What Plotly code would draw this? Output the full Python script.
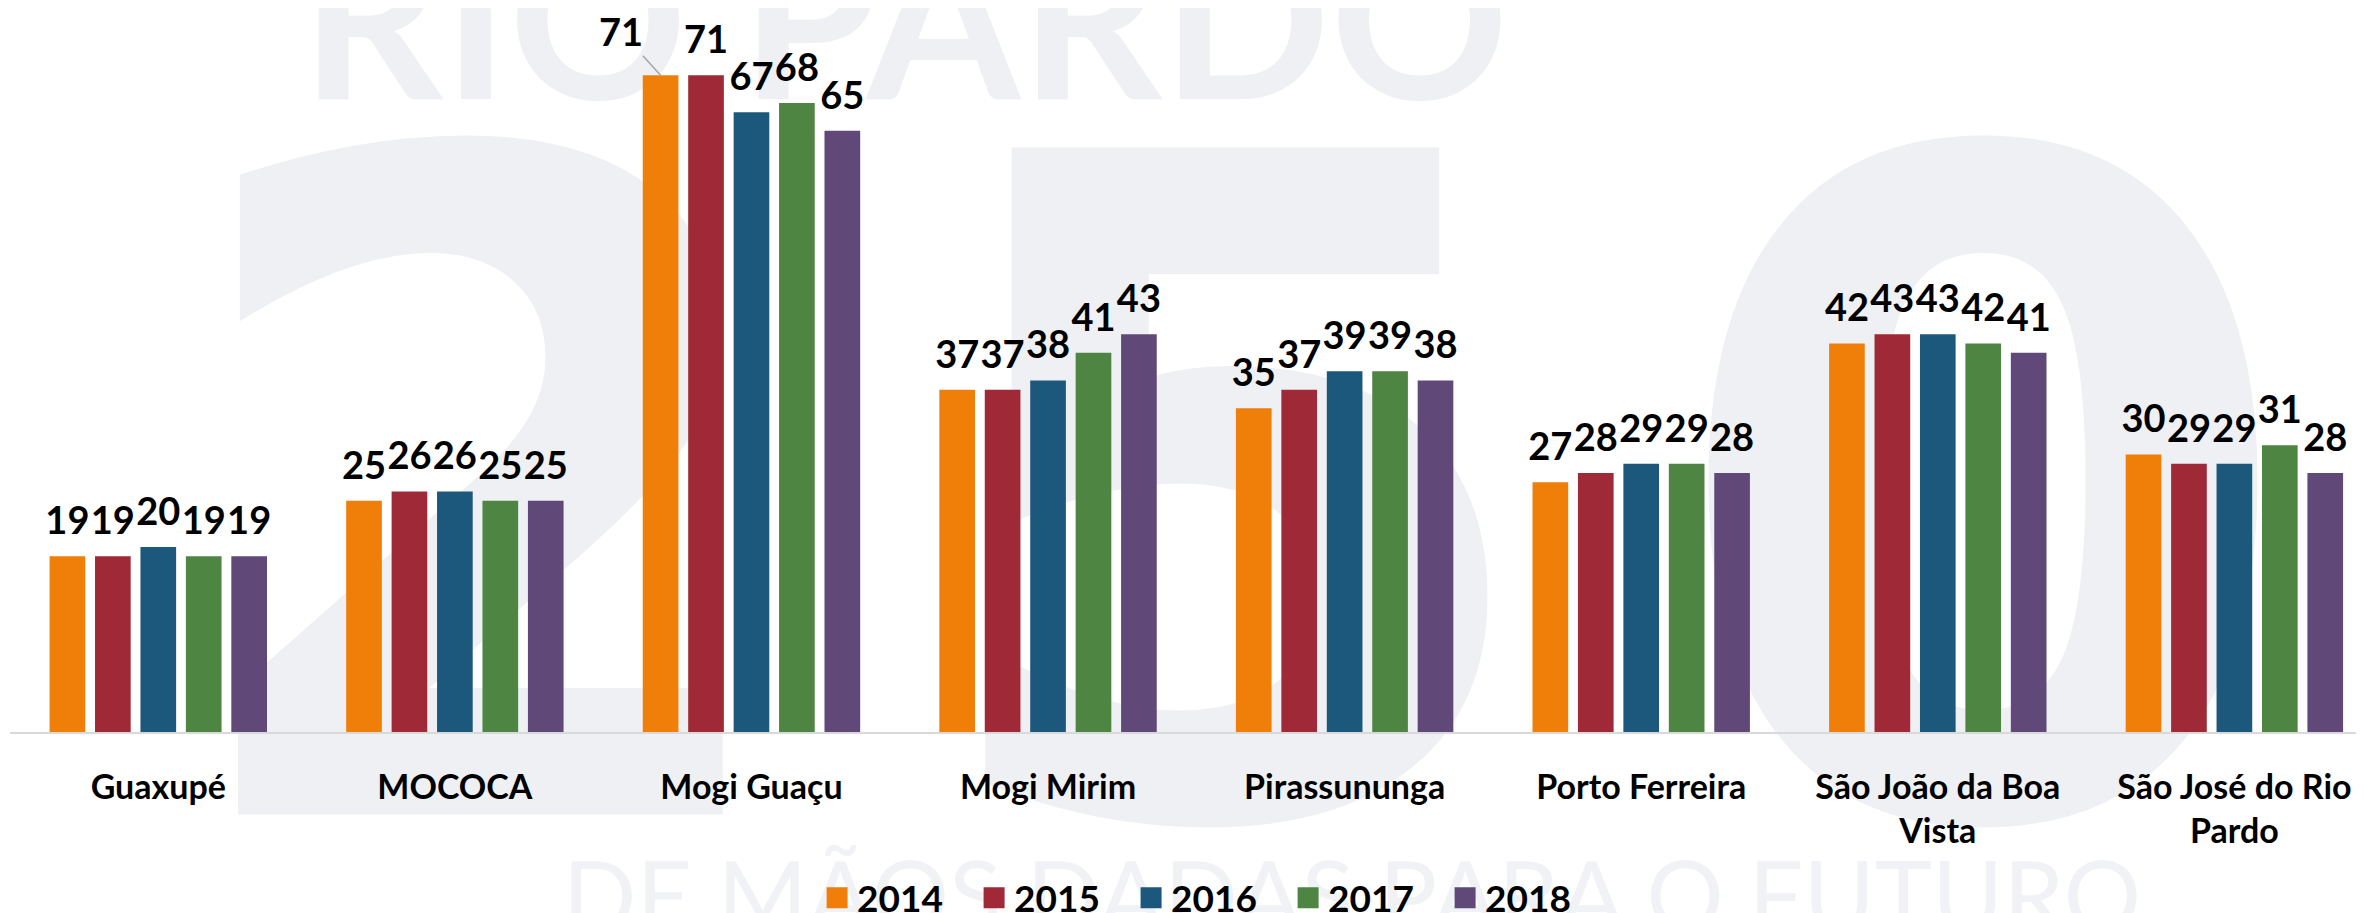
import plotly.graph_objects as go

# ---------------- data ----------------
categories = ["Guaxupé", "MOCOCA", "Mogi Guaçu", "Mogi Mirim", "Pirassununga",
              "Porto Ferreira", "São João da Boa<br>Vista", "São José do Rio<br>Pardo"]
years = ["2014", "2015", "2016", "2017", "2018"]
v2014 = [19, 25, 71, 37, 35, 27, 42, 30]
v2015 = [19, 26, 71, 37, 37, 28, 43, 29]
v2016 = [20, 26, 67, 38, 39, 29, 43, 29]
v2017 = [19, 25, 68, 41, 39, 29, 42, 31]
v2018 = [19, 25, 65, 43, 38, 28, 41, 28]
series = [v2014, v2015, v2016, v2017, v2018]
colors = ["#F07F09", "#9F2936", "#1B587C", "#4E8542", "#604878"]

# label moved off its bar with a leader line (series index, category index)
leader_label = (0, 2)

# ---------------- geometry / style ----------------
W, H = 2364, 913
PAGE_OFFSET = 8          # default body margin of the html page
ML, MR, MT, MB = 2, 0, 0, 189
XR = [-0.5, 7.464]
YR = [0, 78.27]
BARGAP = 0.234
BARGROUPGAP = 0.215
LABEL_PAD = 1.2
LABEL_FONT = dict(family="Lato", size=38, color="black", weight="bold")
WM_COLOR = "#EFF0F3"

plot_w = W - ML - MR
plot_h = H - MT - MB


def px_to_paper(px, py):
    """window pixel -> paper coordinates"""
    fx, fy = px - PAGE_OFFSET, py - PAGE_OFFSET
    return (fx - ML) / plot_w, (H - MB - fy) / plot_h


fig = go.Figure()

for i, (yr, vals, col) in enumerate(zip(years, series, colors)):
    fig.add_trace(go.Bar(
        x=categories, y=vals, name=yr, offsetgroup=str(i),
        marker=dict(color=col, line=dict(width=0)),
        showlegend=False, hovertemplate="%{x}: %{y}<extra>" + yr + "</extra>",
    ))
    labels = [str(v) for v in vals]
    if i == leader_label[0]:
        labels[leader_label[1]] = ""
    fig.add_trace(go.Bar(
        x=categories, y=[LABEL_PAD] * len(vals), base=vals, offsetgroup=str(i),
        marker=dict(color="rgba(0,0,0,0)", line=dict(width=0)),
        text=labels, textposition="outside", textangle=0, constraintext="none",
        textfont=LABEL_FONT, cliponaxis=False, showlegend=False, hoverinfo="skip",
    ))

# legend entries
for yr, col in zip(years, colors):
    fig.add_trace(go.Scatter(
        x=[None], y=[None], mode="markers", name=yr,
        marker=dict(symbol="square", size=16, color=col, line=dict(color=col, width=5)),
    ))

# leader-lined label
si, ci = leader_label
cat_px = plot_w / (XR[1] - XR[0])
slot = cat_px * (1 - BARGAP) / len(years)
xshift = (si - (len(years) - 1) / 2) * slot
fig.add_annotation(
    x=categories[ci], y=series[si][ci], xref="x", yref="y", xshift=xshift,
    text=str(series[si][ci]), font=LABEL_FONT,
    showarrow=True, arrowhead=0, arrowwidth=1.5, arrowcolor="#A6A6A6",
    ax=-40, ay=-44, standoff=0,
)

# background watermark (drawn below the bars)
watermarks = [
    ("RIO PARDO", 905, 10, dict(family="Lato", size=221, color=WM_COLOR, weight="bold")),
    ("2", 484, 432, dict(family="DejaVu Sans", size=915, color=WM_COLOR, weight="bold")),
    ("5", 1233, 432, dict(family="DejaVu Sans", size=915, color=WM_COLOR, weight="bold")),
    ("0", 1983, 432, dict(family="DejaVu Sans", size=915, color=WM_COLOR, weight="bold")),
    ("DE MÃOS DADAS PARA O FUTURO", 1352, 892, dict(family="Lato", size=97, color="#F1F2F5")),
]
for txt, cx, cy, fnt in watermarks:
    x0, y0 = px_to_paper(cx - 1, cy + 1)
    x1, y1 = px_to_paper(cx + 1, cy - 1)
    fig.add_shape(
        type="rect", xref="paper", yref="paper", x0=x0, x1=x1, y0=y0, y1=y1,
        line=dict(width=0), fillcolor="rgba(0,0,0,0)", layer="below",
        label=dict(text=txt, font=fnt, textposition="middle center", padding=0),
    )

fig.update_layout(
    width=W, height=H,
    margin=dict(l=ML, r=MR, t=MT, b=MB, pad=0, autoexpand=False),
    barmode="group", bargap=BARGAP, bargroupgap=BARGROUPGAP,
    paper_bgcolor="white", plot_bgcolor="rgba(0,0,0,0)",
    font=dict(family="Lato", color="black"),
    showlegend=True,
    legend=dict(
        orientation="h", xref="paper", x=0.3417, xanchor="left",
        yref="container", y=0.025, yanchor="middle",
        font=dict(family="Lato", size=37, color="black", weight="bold"),
        entrywidth=112, entrywidthmode="pixels",
        bgcolor="rgba(0,0,0,0)", traceorder="normal",
    ),
    xaxis=dict(
        range=XR, showgrid=False, zeroline=False, automargin=False,
        showline=True, linecolor="#D9D9D9", linewidth=2,
        ticks="", ticklabelstandoff=24,
        tickfont=dict(family="Lato", size=34, color="black", weight="bold"),
        fixedrange=True,
    ),
    yaxis=dict(range=YR, visible=False, showgrid=False, zeroline=False,
               automargin=False, fixedrange=True),
)

fig.write_html("out.html")
